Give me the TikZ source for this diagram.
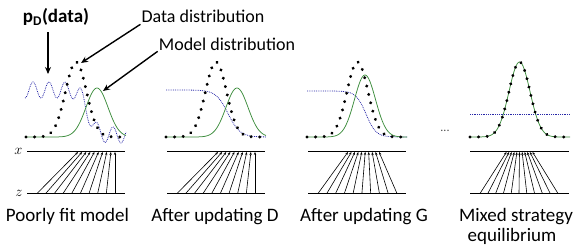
\documentclass[tikz,border=0pt]{standalone}
\usepackage{fontspec}
\setmainfont{Carlito}
\usetikzlibrary{arrows.meta, positioning, decorations.markings}
\definecolor{gangreen}{HTML}{3C8C3C}
\definecolor{ganblue}{HTML}{2828A8}

\begin{document}
\begin{tikzpicture}[x=1pt, y=-1pt,
    declare function={gauss(\u,\m,\s)=exp(-((\u-\m)^2)/(2*\s*\s));
                      sig(\u)=1/(1+exp(-max(-9,min(9,\u))));},
    datadots/.style={decoration={markings, mark=between positions 0 and 1 step 8.6pt with {\fill (0,0) circle (1.65pt);}}, postaction={decorate}},
    modelcurve/.style={draw=gangreen, line width=0.75pt},
    disccurve/.style={draw=ganblue, densely dotted, line width=0.8pt},
    axisline/.style={draw=black, line width=0.9pt},
    mapline/.style={-{Stealth[length=3pt, width=2.4pt]}, line width=0.6pt},
    labelarrow/.style={-{Stealth[length=7pt, width=6pt]}, line width=1.4pt},
    toplabel/.style={font=\fontsize{18}{20}\selectfont, anchor=base, inner sep=1pt},
    caption/.style={font=\fontsize{19}{21}\selectfont, anchor=base, inner sep=0pt}]
    \useasboundingbox (0,0) rectangle (581,249);

    % labels and arrows at the top
    \node[toplabel, font=\bfseries\fontsize{19}{21}\selectfont] (pdata) at (56,23) {p\textsubscript{D}(data)};
    \node[toplabel] (datalbl) at (203,23) {Data distribution};
    \node[toplabel] (modellbl) at (227,50) {Model distribution};
    \coordinate (pdatatip) at (48,74);
    \coordinate (datatip) at (81,63);
    \coordinate (modeltip) at (103,91);
    \draw[labelarrow, shorten <=5pt] (pdata.south -| pdatatip) -- (pdatatip);
    \draw[labelarrow] (datalbl.south west) -- (datatip);
    \draw[labelarrow] (modellbl.south west) -- (modeltip);

    % panel 1: poorly fit model
    \draw[disccurve] plot[domain=25:126, samples=160, smooth] (\x, {90+45*sig((\x-88)/4)-8*sin(22.5*(\x-29))});
    \draw[modelcurve] plot[domain=26:126, samples=90, smooth] (\x, {137-49*gauss(\x,97,11)});
    \path[datadots] plot[domain=26:126, samples=101] (\x, {137-75*gauss(\x,76,10.5)});
    \draw[axisline] (27,151.5) -- (125,151.5);
    \draw[axisline] (27,193.5) -- (125,193.5);
    \node[font=\fontsize{14}{14}\selectfont, left=1pt] (xlab) at (27,151.5) {$x$};
    \node[font=\fontsize{14}{14}\selectfont, left=1pt] (zlab) at (27,193.5) {$z$};
    \foreach \i in {0,...,9} {
        \coordinate (za-\i) at ({37+78*\i/9}, 193.5);
        \coordinate (xa-\i) at ({78+37*\i/9}, 152);
        \draw[mapline] (za-\i) -- (xa-\i);
    }
    \node[caption] (capa) at (67.5,221) {Poorly fit model};

    % panel 2: after updating D
    \begin{scope}[xshift=140pt]
        \draw[disccurve] plot[domain=26:126, samples=90, smooth] (\x, {90+47*sig((\x-88)/6)});
        \draw[modelcurve] plot[domain=26:126, samples=90, smooth] (\x, {137-49*gauss(\x,97,11)});
        \path[datadots] plot[domain=26:126, samples=101] (\x, {137-75*gauss(\x,76,10.5)});
        \draw[axisline] (27,151.5) -- (125,151.5);
        \draw[axisline] (27,193.5) -- (125,193.5);
        \foreach \i in {0,...,9} {
            \coordinate (zb-\i) at ({37+78*\i/9}, 193.5);
            \coordinate (xb-\i) at ({78+37*\i/9}, 152);
            \draw[mapline] (zb-\i) -- (xb-\i);
        }
        \node[caption] (capb) at (75,221) {After updating D};
    \end{scope}

    % panel 3: after updating G
    \begin{scope}[xshift=281pt]
        \draw[disccurve] plot[domain=26:126, samples=90, smooth] (\x, {91+46*sig((\x-85)/5)});
        \draw[modelcurve] plot[domain=26:126, samples=90, smooth] (\x, {137-62*gauss(\x,84,10.5)});
        \path[datadots] plot[domain=26:126, samples=101] (\x, {137-75*gauss(\x,76.5,10.5)});
        \draw[axisline] (27,151.5) -- (125,151.5);
        \draw[axisline] (27,193.5) -- (125,193.5);
        \foreach \i in {0,...,9} {
            \coordinate (zc-\i) at ({37+79*\i/9}, 193.5);
            \coordinate (xc-\i) at ({67+31*\i/9}, 152);
            \draw[mapline] (zc-\i) -- (xc-\i);
        }
        \node[caption] (capc) at (83,221) {After updating G};
    \end{scope}

    \node[font=\fontsize{12}{12}\selectfont, text=black!70, anchor=base] (gap) at (445,131) {...};

    % panel 4: mixed strategy equilibrium
    \begin{scope}[xshift=444pt]
        \draw[disccurve] (26,114) -- (126,114);
        \draw[modelcurve] plot[domain=26:126, samples=90, smooth] (\x, {137-75*gauss(\x,75.5,10.5)});
        \path[datadots] plot[domain=26:126, samples=101] (\x, {137-75*gauss(\x,75.5,10.5)});
        \draw[axisline] (26,151.5) -- (125,151.5);
        \draw[axisline] (26,193.5) -- (125,193.5);
        \foreach \i in {0,...,10} {
            \coordinate (zd-\i) at ({36+7.8*\i}, 193.5);
            \coordinate (xd-\i) at ({62.5+2.6*\i}, 152);
            \draw[mapline] (zd-\i) -- (xd-\i);
        }
        \node[caption] (capd) at (72,221) {Mixed strategy};
        \node[caption] (cape) at (68,241) {equilibrium};
    \end{scope}
\end{tikzpicture}
\end{document}
